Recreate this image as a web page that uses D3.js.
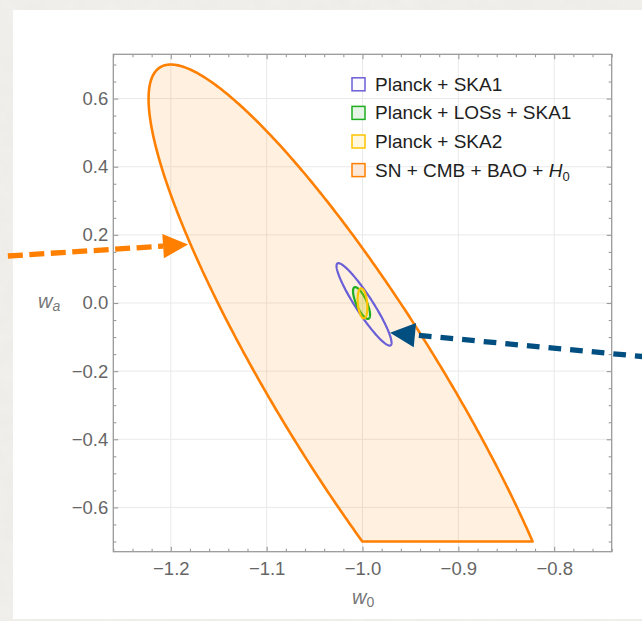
<!DOCTYPE html>
<html>
<head>
<meta charset="utf-8">
<script src="https://cdn.jsdelivr.net/npm/d3@7"></script>
<style>
  html, body { margin: 0; padding: 0; background: #f1f0ec; }
  svg { display: block; }
  text { font-family: "Liberation Sans", Arial, Helvetica, sans-serif; }
</style>
</head>
<body>
<svg id="chart" width="642" height="621"></svg>
<script>
// Dark-energy equation of state constraints in the (w0, wa) plane.
// Each contour is an ellipse given by its centre, widths and correlation.
const contourNames = ["Planck + SKA1", "Planck + LOSs + SKA1", "Planck + SKA2", "SN + CMB + BAO + "];
const centerW0 = [-0.9984, -1.001, -1.0, -1.0];
const centerWa = [-0.004, 0.0, -0.001, -0.27];
const sigmaW0  = [0.0287, 0.0089, 0.0051, 0.2232];
const sigmaWa  = [0.121, 0.0466, 0.044, 0.97];
const rho      = [-0.930, -0.74, -0.27, -0.896];
// lower prior edge applied to the SN + CMB + BAO + H0 contour
const waPrior = -0.7;

// axis ranges and ticks
const w0Domain = [-1.26, -0.74];
const waDomain = [-0.73, 0.73];
const w0Ticks = [-1.2, -1.1, -1.0, -0.9, -0.8];
const waTicks = [-0.6, -0.4, -0.2, 0.0, 0.2, 0.4, 0.6];
const w0Minor = d3.range(-1.26, -0.739, 0.02).map(v => +v.toFixed(2)).filter(v => !w0Ticks.some(t => Math.abs(t - v) < 1e-6));
const waMinor = d3.range(-0.7, 0.701, 0.05).map(v => +v.toFixed(2)).filter(v => !waTicks.some(t => Math.abs(t - v) < 1e-6));

// annotation arrows (data coordinates)
const arrowTail = [[-1.37, 0.138], [-0.6896, -0.162]];
const arrowTip  = [[-1.182, 0.1716], [-0.9713, -0.0871]];
const arrowColors = ["#ff8000", "#004f80"];

const strokeColors = ["#6a5fd6", "#1fae1f", "#ffc400", "#ff7f00"];
const fillColors   = ["none", "#22b022", "#ffd000", "#ff8000"];
const fillOpacity  = [0, 0.10, 0.22, 0.12];
const swatchFill   = ["#fbfbff", "#e6f4e6", "#fff8dc", "#fde8d8"];

const svg = d3.select("#chart");
const W = 642, H = 621;
const plot = { left: 113.3, right: 611.7, top: 54.3, bottom: 551.7 };

// paper background and white sheet
const defs = svg.append("defs");
const paper = defs.append("filter").attr("id", "paper").attr("x", 0).attr("y", 0).attr("width", 1).attr("height", 1);
paper.append("feTurbulence").attr("type", "fractalNoise").attr("baseFrequency", 0.06).attr("numOctaves", 3).attr("seed", 4).attr("result", "n");
paper.append("feColorMatrix").attr("in", "n").attr("type", "matrix")
  .attr("values", "0 0 0 0 0.55  0 0 0 0 0.54  0 0 0 0 0.5  0 0 0 0.10 0");
svg.append("rect").attr("width", W).attr("height", H).attr("fill", "#f1f0ec");
svg.append("rect").attr("width", W).attr("height", H).attr("filter", "url(#paper)");
svg.append("rect").attr("x", 13).attr("y", 10).attr("width", W).attr("height", 609).attr("fill", "#ffffff");

const x = d3.scaleLinear().domain(w0Domain).range([plot.left, plot.right]);
const y = d3.scaleLinear().domain(waDomain).range([plot.bottom, plot.top]);

// grid
const grid = svg.append("g").attr("stroke", "#e9e9e9").attr("stroke-width", 1);
grid.selectAll(".gx").data(w0Ticks).join("line")
  .attr("x1", d => x(d)).attr("x2", d => x(d)).attr("y1", plot.top).attr("y2", plot.bottom);
grid.selectAll(".gy").data(waTicks).join("line")
  .attr("y1", d => y(d)).attr("y2", d => y(d)).attr("x1", plot.left).attr("x2", plot.right);

// contours
function ellipsePoints(i, t0, t1, n) {
  const c = Math.sqrt(1 - rho[i] * rho[i]);
  return d3.range(n + 1).map(k => {
    const t = t0 + (t1 - t0) * k / n;
    return [centerW0[i] + sigmaW0[i] * (rho[i] * Math.sin(t) + c * Math.cos(t)),
            centerWa[i] + sigmaWa[i] * Math.sin(t)];
  });
}
const line = d3.line().x(d => x(d[0])).y(d => y(d[1]));

const contours = svg.append("g");
[3, 0, 1, 2].forEach(i => {
  let pts;
  if (i === 3) {
    const tc = Math.asin((waPrior - centerWa[i]) / sigmaWa[i]);
    pts = ellipsePoints(i, tc, Math.PI - tc, 400);
  } else {
    pts = ellipsePoints(i, 0, 2 * Math.PI, 200);
  }
  contours.append("path")
    .attr("d", line(pts) + "Z")
    .attr("fill", fillColors[i])
    .attr("fill-opacity", fillOpacity[i])
    .attr("stroke", strokeColors[i])
    .attr("stroke-width", i === 3 ? 2.6 : 2.2)
    .attr("stroke-linejoin", "round");
});

// frame, ticks and labels
const tickColor = "#9a9a9a";
function styleAxis(g) {
  g.select(".domain").remove();
  g.selectAll(".tick line").attr("stroke", tickColor).attr("stroke-width", 1.1);
  g.selectAll(".tick text").attr("fill", "#666").attr("font-size", 18.5)
    .attr("font-family", "'Liberation Sans', Arial, Helvetica, sans-serif");
}
const fmt = d3.format(".1f");
svg.append("g").attr("transform", `translate(0,${plot.bottom})`)
  .call(d3.axisBottom(x).tickValues(w0Ticks).tickFormat(fmt).tickSize(-5).tickSizeOuter(0).tickPadding(10)).call(styleAxis);
svg.append("g").attr("transform", `translate(0,${plot.bottom})`)
  .call(d3.axisBottom(x).tickValues(w0Minor).tickFormat("").tickSize(-3).tickSizeOuter(0)).call(styleAxis);
svg.append("g").attr("transform", `translate(0,${plot.top})`)
  .call(d3.axisTop(x).tickValues(w0Ticks).tickFormat("").tickSize(-5).tickSizeOuter(0)).call(styleAxis);
svg.append("g").attr("transform", `translate(0,${plot.top})`)
  .call(d3.axisTop(x).tickValues(w0Minor).tickFormat("").tickSize(-3).tickSizeOuter(0)).call(styleAxis);
svg.append("g").attr("transform", `translate(${plot.left},0)`)
  .call(d3.axisLeft(y).tickValues(waTicks).tickFormat(fmt).tickSize(-5).tickSizeOuter(0).tickPadding(5)).call(styleAxis);
svg.append("g").attr("transform", `translate(${plot.left},0)`)
  .call(d3.axisLeft(y).tickValues(waMinor).tickFormat("").tickSize(-3).tickSizeOuter(0)).call(styleAxis);
svg.append("g").attr("transform", `translate(${plot.right},0)`)
  .call(d3.axisRight(y).tickValues(waTicks).tickFormat("").tickSize(-5).tickSizeOuter(0)).call(styleAxis);
svg.append("g").attr("transform", `translate(${plot.right},0)`)
  .call(d3.axisRight(y).tickValues(waMinor).tickFormat("").tickSize(-3).tickSizeOuter(0)).call(styleAxis);

svg.append("rect")
  .attr("x", plot.left).attr("y", plot.top)
  .attr("width", plot.right - plot.left).attr("height", plot.bottom - plot.top)
  .attr("fill", "none").attr("stroke", tickColor).attr("stroke-width", 1.3);

// axis titles
const xt = svg.append("text").attr("x", 352).attr("y", 604).attr("fill", "#777").attr("font-size", 20);
xt.append("tspan").attr("font-style", "italic").text("w");
xt.append("tspan").attr("font-size", 14).attr("dy", 3).text("0");
const yt = svg.append("text").attr("x", 38).attr("y", 308).attr("fill", "#777").attr("font-size", 20);
yt.append("tspan").attr("font-style", "italic").text("w");
yt.append("tspan").attr("font-style", "italic").attr("font-size", 14).attr("dy", 3).text("a");

// legend
const legend = svg.append("g");
contourNames.forEach((name, i) => {
  const cy = 84.3 + i * 28.6;
  legend.append("rect").attr("x", 352).attr("y", cy - 6.5).attr("width", 13).attr("height", 13)
    .attr("fill", swatchFill[i]).attr("stroke", strokeColors[i]).attr("stroke-width", 1.5);
  const t = legend.append("text").attr("x", 375).attr("y", cy + 6.5).attr("fill", "#1e1e1e").attr("font-size", 19);
  t.append("tspan").text(name);
  if (i === 3) {
    t.append("tspan").attr("font-style", "italic").text("H");
    t.append("tspan").attr("font-size", 13).attr("dy", 4).text("0");
  }
});

// annotation arrows: dashed shaft plus a solid triangular head
const arrows = svg.append("g");
arrowTail.forEach((tail, i) => {
  const tx = x(tail[0]), ty = y(tail[1]);
  const px = x(arrowTip[i][0]), py = y(arrowTip[i][1]);
  const len = Math.hypot(px - tx, py - ty);
  const ux = (px - tx) / len, uy = (py - ty) / len;
  const headLen = 25, headHalf = 12.2;
  const bx = px - ux * headLen, by = py - uy * headLen;
  const shaft = arrows.append("line").attr("stroke", arrowColors[i]).attr("stroke-width", 5.3);
  if (i === 0) {
    // dashes begin at the tail
    shaft.attr("x1", tx).attr("y1", ty).attr("x2", bx).attr("y2", by)
      .attr("stroke-dasharray", "15,6.5");
  } else {
    // dashes counted from the head, starting after a short gap
    shaft.attr("x1", bx).attr("y1", by).attr("x2", tx).attr("y2", ty)
      .attr("stroke-dasharray", "12.7,9").attr("stroke-dashoffset", -4);
  }
  arrows.append("polygon")
    .attr("points", [[px, py], [bx - uy * headHalf, by + ux * headHalf], [bx + uy * headHalf, by - ux * headHalf]].map(p => p.join(",")).join(" "))
    .attr("fill", arrowColors[i]);
});
</script>
</body>
</html>
